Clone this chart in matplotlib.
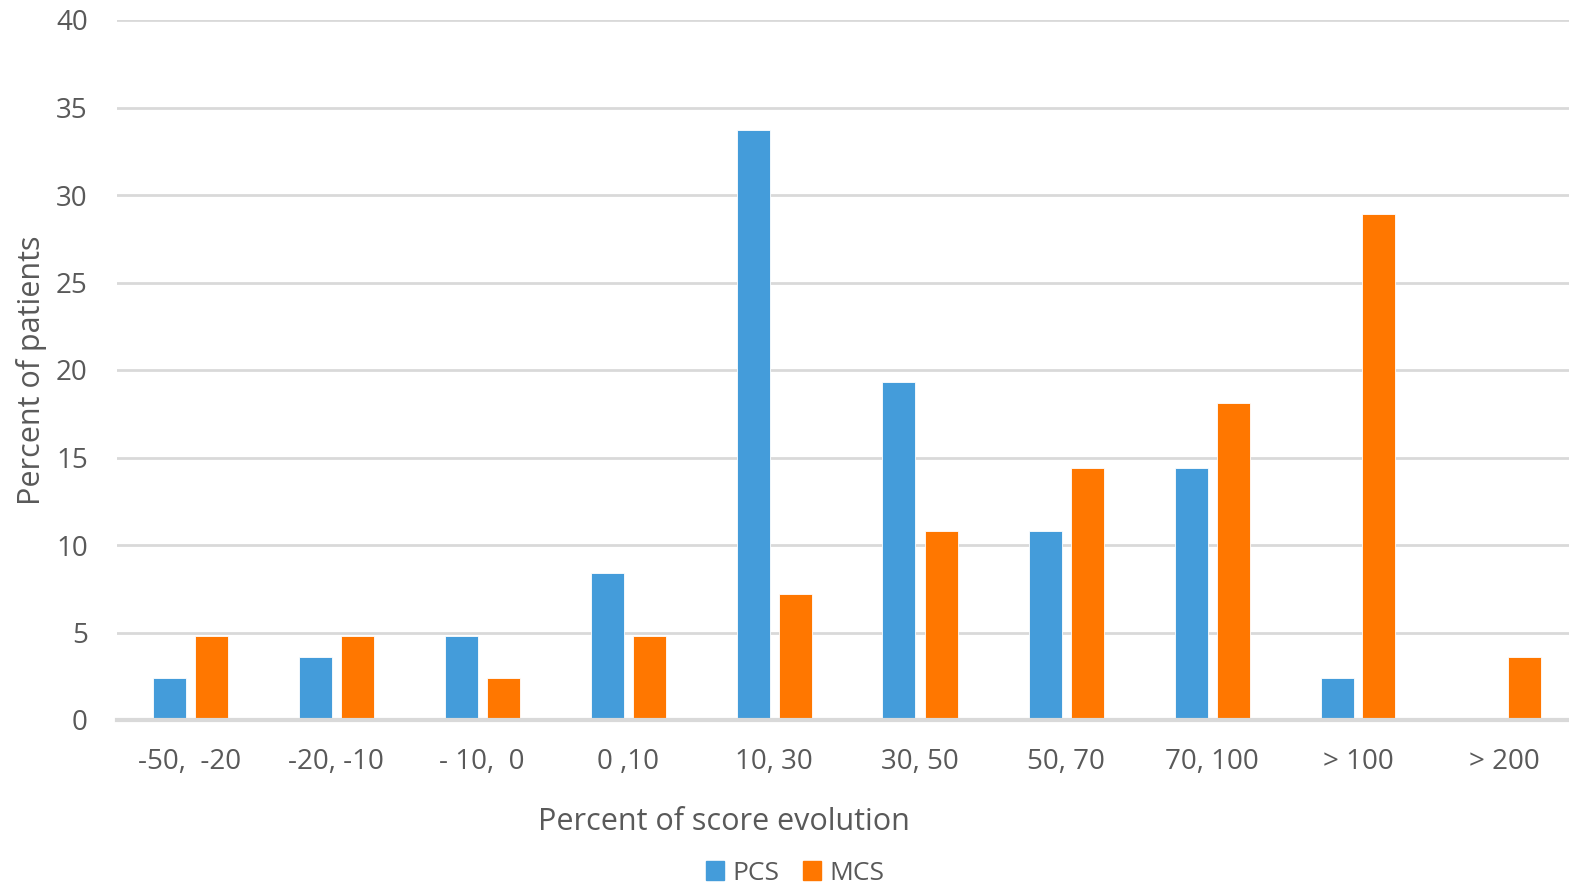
import matplotlib
matplotlib.use("Agg")
import matplotlib.pyplot as plt
import numpy as np
from matplotlib.patches import Patch

categories = ["-50,  -20", "-20, -10", "- 10,  0", "0 ,10", "10, 30", "30, 50",
              "50, 70", "70, 100", "> 100", "> 200"]
pcs = [2.4, 3.6, 4.8, 8.4, 33.7, 19.3, 10.8, 14.4, 2.4, 0]
mcs = [4.8, 4.8, 2.4, 4.8, 7.2, 10.8, 14.4, 18.1, 28.9, 3.6]
yticks = [0, 5, 10, 15, 20, 25, 30, 35, 40]

plt.rcParams['font.family'] = ['Open Sans', 'DejaVu Sans']
TXT = "#595959"
BLUE = "#449CDA"
ORANGE = "#FF7700"
GRID = "#D9D9D9"

W, H = 1569, 889
fig = plt.figure(figsize=(W / 100, H / 100), dpi=100)
left, right, top, bottom = 117, 1569, 20, 720
ax = fig.add_axes([left / W, 1 - bottom / H, (right - left) / W, (bottom - top) / H])

x = np.arange(len(categories))
group_px = 146.0
bw = 33 / group_px
off = 21 / group_px
ax.bar(x - off, pcs, bw, color=BLUE, edgecolor="white", linewidth=0.6, zorder=3, label="PCS")
ax.bar(x + off, mcs, bw, color=ORANGE, edgecolor="white", linewidth=0.6, zorder=3, label="MCS")

ax.set_xlim(-0.5, -0.5 + (right - left) / group_px)
ax.set_ylim(0, 40)
ax.set_yticks(yticks)
ax.set_xticks(x)
ax.set_xticklabels(categories)
ax.yaxis.grid(True, color=GRID, linewidth=2, zorder=0)
ax.set_axisbelow(True)
for s in ["top", "right", "left"]:
    ax.spines[s].set_visible(False)
ax.spines["bottom"].set_color(GRID)
ax.spines["bottom"].set_linewidth(3)
ax.spines["bottom"].set_zorder(4)
ax.tick_params(axis="both", length=0, labelsize=20, colors=TXT)
ax.tick_params(axis="x", pad=20)
ax.tick_params(axis="y", pad=21)

ax.set_ylabel("Percent of patients", fontsize=22, color=TXT)
ax.yaxis.set_label_coords(-(left - 47) / (right - left), 0.5)
fig.text(724 / W, 1 - 822 / H, "Percent of score evolution", fontsize=22, color=TXT,
         ha="center", va="center")

handles = [Patch(color=BLUE, label="PCS"), Patch(color=ORANGE, label="MCS")]
fig.legend(handles=handles, loc="center", bbox_to_anchor=(795 / W, 1 - 873 / H), ncol=2,
           frameon=False, fontsize=19, labelcolor=TXT, handlelength=0.7, handleheight=0.7,
           handletextpad=0.3, columnspacing=0.9)

fig.savefig("out.png", dpi=100)
